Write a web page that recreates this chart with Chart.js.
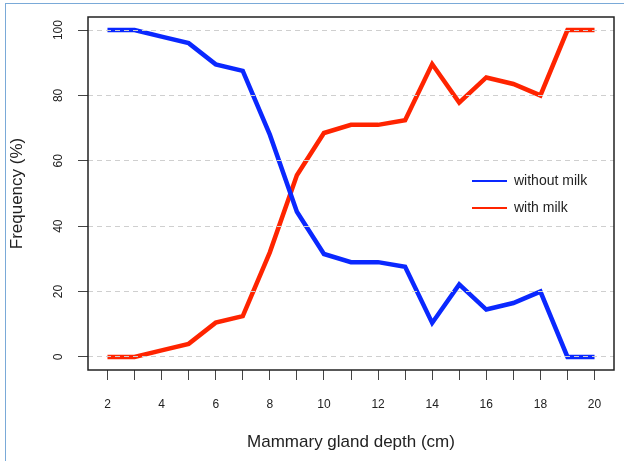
<!DOCTYPE html>
<html>
<head>
<meta charset="utf-8">
<script src="https://cdn.jsdelivr.net/npm/chart.js@4.4.1/dist/chart.umd.min.js"></script>
<style>
  html, body { margin: 0; padding: 0; background: #fff; }
  #wrap { position: relative; width: 624px; height: 461px; overflow: hidden; }
  #frame { position: absolute; left: 5px; top: 3px; right: -2px; bottom: -2px;
           border-left: 1px solid #7aaad8; border-top: 1px solid #7aaad8; pointer-events: none; }
  canvas { position: absolute; left: 0; top: 0; }
</style>
</head>
<body>
<div id="wrap">
  <canvas id="myChart" width="624" height="461"></canvas>
  <div id="frame"></div>
</div>
<script>
// depth classes (cm)
const depths = [2, 3, 4, 5, 6, 7, 8, 9, 10, 11, 12, 13, 14, 15, 16, 17, 18, 19, 20];
// frequency (%)
const withoutMilk = [100, 100, 98, 96, 89.5, 87.5, 68, 44.4, 31.5, 29, 29, 27.6, 10.4, 22.2, 14.5, 16.5, 20, 0, 0];
const withMilk = [0, 0, 2, 4, 10.5, 12.5, 32, 55.6, 68.5, 71, 71, 72.4, 89.6, 77.8, 85.5, 83.5, 80, 100, 100];
const seriesLabels = ['without milk', 'with milk'];
const xTicks = [2, 3, 4, 5, 6, 7, 8, 9, 10, 11, 12, 13, 14, 15, 16, 17, 18, 19, 20];
const yTicks = [0, 20, 40, 60, 80, 100];

const FONT = '"Liberation Sans", Arial, Helvetica, sans-serif';
const BLUE = '#0a28ff';
const RED = '#ff2400';

const toPoints = (vals) => depths.map((d, i) => ({ x: d, y: vals[i] }));

// box around the plot region, like R's box()
const plotBox = {
  id: 'plotBox',
  afterDraw(chart) {
    const { ctx, chartArea: a } = chart;
    ctx.save();
    ctx.strokeStyle = '#222';
    ctx.lineWidth = 1.5;
    ctx.strokeRect(a.left, a.top, a.right - a.left, a.bottom - a.top);
    ctx.restore();
  }
};

// put the legend inside the plot, right of centre
const moveLegend = {
  id: 'moveLegend',
  afterLayout(chart) {
    const l = chart.legend;
    if (!l) return;
    const w = l.right - l.left, h = l.bottom - l.top;
    l.left = 459; l.top = 161;
    l.right = l.left + w; l.bottom = l.top + h;
  }
};

const ctx = document.getElementById('myChart');
new Chart(ctx, {
  type: 'line',
  data: {
    datasets: [
      {
        label: seriesLabels[0],
        data: toPoints(withoutMilk),
        borderColor: BLUE,
        backgroundColor: BLUE,
        borderWidth: 4.5,
        pointRadius: 0,
        tension: 0
      },
      {
        label: seriesLabels[1],
        data: toPoints(withMilk),
        borderColor: RED,
        backgroundColor: RED,
        borderWidth: 4.5,
        pointRadius: 0,
        tension: 0
      }
    ]
  },
  options: {
    responsive: false,
    animation: false,
    events: [],
    layout: { padding: { top: 17, right: 10, left: 0, bottom: 0 } },
    plugins: {
      tooltip: { enabled: false },
      legend: {
        position: 'chartArea',
        align: 'start',
        labels: {
          boxWidth: 35,
          boxHeight: 2,
          padding: 13,
          color: '#222',
          font: { family: FONT, size: 14 },
          generateLabels(chart) {
            return Chart.defaults.plugins.legend.labels.generateLabels(chart)
              .map(item => Object.assign(item, { lineWidth: 0 }));
          }
        }
      }
    },
    scales: {
      x: {
        type: 'linear',
        min: 1.28,
        max: 20.72,
        afterBuildTicks(scale) { scale.ticks = xTicks.map(v => ({ value: v })); },
        afterFit(scale) { scale.height = 91; },
        border: { display: false },
        grid: {
          drawOnChartArea: false,
          drawTicks: true,
          tickLength: 10,
          tickWidth: 1,
          tickColor: '#444'
        },
        ticks: {
          autoSkip: false,
          maxRotation: 0,
          padding: 17,
          color: '#222',
          font: { family: FONT, size: 12 },
          callback: (v) => (v % 2 === 0 ? v : '')
        },
        title: {
          display: true,
          text: 'Mammary gland depth (cm)',
          color: '#222',
          font: { family: FONT, size: 17 },
          padding: { top: 0, bottom: 8 }
        }
      },
      y: {
        type: 'linear',
        min: -4,
        max: 104,
        afterBuildTicks(scale) { scale.ticks = yTicks.map(v => ({ value: v })); },
        afterFit(scale) { scale.width = 88; },
        border: { display: false, dash: [5, 4] },
        grid: {
          z: 1,
          color: '#cfcfcf',
          lineWidth: 1,
          tickLength: 10,
          tickWidth: 1,
          tickColor: '#444',
          tickBorderDash: []
        },
        ticks: {
          minRotation: 90,
          maxRotation: 90,
          crossAlign: 'center',
          padding: 9,
          color: '#222',
          font: { family: FONT, size: 12 }
        },
        title: {
          display: true,
          text: 'Frequency (%)',
          color: '#222',
          font: { family: FONT, size: 17 },
          padding: { top: 7, bottom: 0 }
        }
      }
    }
  },
  plugins: [plotBox, moveLegend]
});
</script>
</body>
</html>
